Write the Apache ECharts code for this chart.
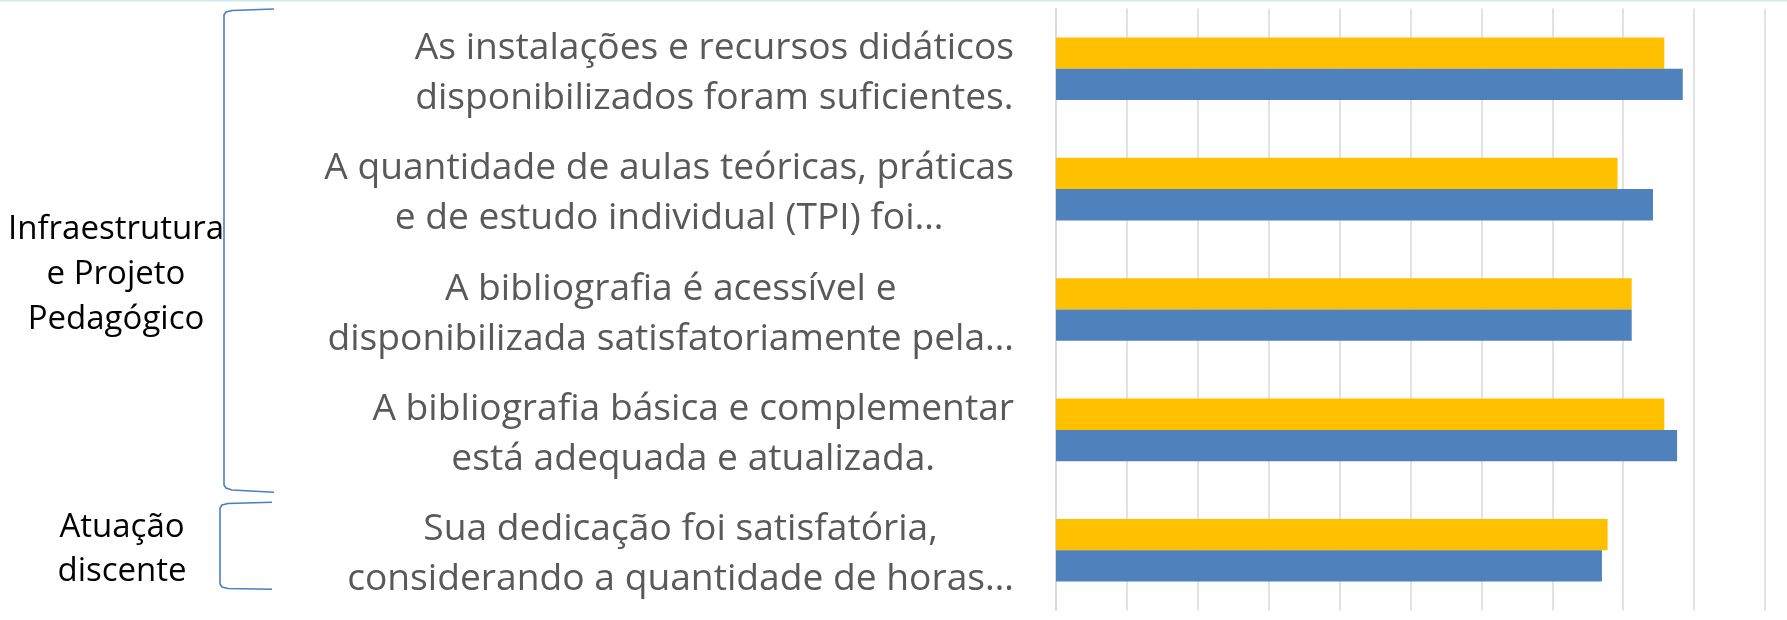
<!DOCTYPE html>
<html><head><meta charset="utf-8">
<script src="https://cdn.jsdelivr.net/npm/echarts@6/dist/echarts.min.js"></script>
<style>html,body{margin:0;padding:0;background:#fff}#c{width:1787px;height:620px}</style>
</head><body><div id="c"></div>
<script>
const categories = [
  'As instalações e recursos didáticos\ndisponibilizados foram suficientes.',
  'A quantidade de aulas teóricas, práticas\ne de estudo individual (TPI) foi…',
  'A bibliografia é acessível e\ndisponibilizada satisfatoriamente pela…',
  'A bibliografia básica e complementar\nestá adequada e atualizada.',
  'Sua dedicação foi satisfatória,\nconsiderando a quantidade de horas…'
];
const seriesYellow = [4.29, 3.96, 4.06, 4.29, 3.89];
const seriesBlue = [4.42, 4.21, 4.06, 4.38, 3.85];
const groupLabels = ['Infraestrutura\ne Projeto\nPedagógico', 'Atuação\ndiscente'];

const chart = echarts.init(document.getElementById('c'), null, {renderer: 'canvas'});
chart.setOption({
  animation: false,
  backgroundColor: '#ffffff',
  grid: {left: 1056, right: 22, top: 8.5, bottom: 9.5, containLabel: false, outerBoundsMode: 'none'},
  xAxis: {
    type: 'value', min: 0, max: 5, interval: 0.5,
    axisLabel: {show: false}, axisTick: {show: false}, axisLine: {show: false},
    splitLine: {show: true, lineStyle: {color: '#d9d9d9', width: 1.5}}
  },
  yAxis: {
    type: 'category', data: categories, inverse: true,
    axisTick: {show: false},
    axisLine: {show: true, lineStyle: {color: '#d9d9d9', width: 1.5}},
    axisLabel: {
      align: 'right', margin: 42, padding: [9, 0, 0, 0],
      formatter: v => v.split('\n').map(l => '{c|' + l + '}').join('\n'),
      rich: {c: {align: 'center', fontFamily: '"Open Sans"', fontSize: 37.2, lineHeight: 50, color: '#595959'}}
    }
  },
  series: [
    {name: 'Série 1', type: 'bar', data: seriesYellow, barWidth: 31.3, barGap: '0%', itemStyle: {color: '#FFC000'}},
    {name: 'Série 2', type: 'bar', data: seriesBlue, barWidth: 31.3, barGap: '0%', itemStyle: {color: '#4F81BD'}}
  ],
  graphic: [
    {type: 'rect', shape: {x: 0, y: 0, width: 1787, height: 1.5}, style: {fill: '#cdeaea'}, silent: true},
    {type: 'polyline', shape: {points: [[274,9],[232,10.5],[226,12],[224,15],[224,485],[226,488],[232,490],[274,492.3]]},
      style: {stroke: '#4a7ec6', lineWidth: 1.6, fill: null}, silent: true},
    {type: 'polyline', shape: {points: [[272,502.3],[228,503.5],[222,505],[220,508],[220,584],[222,587],[228,588.5],[272,589.3]]},
      style: {stroke: '#4a7ec6', lineWidth: 1.6, fill: null}, silent: true},
    {type: 'text', style: {text: groupLabels[0], x: 116, y: 275, align: 'center', verticalAlign: 'middle',
      fontFamily: '"Open Sans"', fontSize: 33, lineHeight: 45, fill: '#000000'}, silent: true},
    {type: 'text', style: {text: groupLabels[1], x: 122, y: 550, align: 'center', verticalAlign: 'middle',
      fontFamily: '"Open Sans"', fontSize: 33, lineHeight: 44, fill: '#000000'}, silent: true}
  ]
});
</script></body></html>
